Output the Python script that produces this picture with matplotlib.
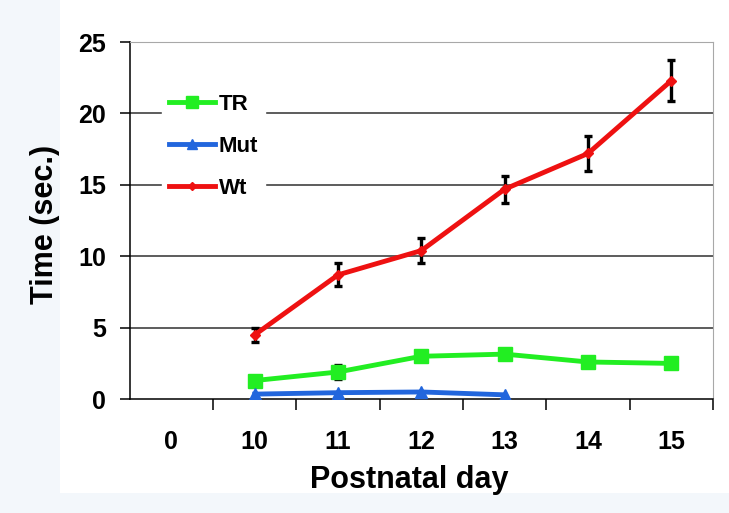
import matplotlib.pyplot as plt
from matplotlib.patches import Rectangle

plt.rcParams['font.family'] = ['Liberation Sans', 'DejaVu Sans']
plt.rcParams['font.weight'] = 'bold'

# categories on the x axis
days = ["0", "10", "11", "12", "13", "14", "15"]

# series values
tr_days = ["10", "11", "12", "13", "14", "15"]
tr_time = [1.3, 1.9, 3.0, 3.15, 2.6, 2.5]
tr_err = [0.3, 0.5, 0.3, 0.3, 0.3, 0.3]

mut_days = ["10", "11", "12", "13"]
mut_time = [0.35, 0.45, 0.5, 0.3]

wt_days = ["10", "11", "12", "13", "14", "15"]
wt_time = [4.5, 8.7, 10.4, 14.7, 17.2, 22.3]
wt_err = [0.5, 0.8, 0.9, 0.95, 1.25, 1.45]

pos = {d: i for i, d in enumerate(days)}

fig = plt.figure(figsize=(7.29, 5.13), dpi=100, facecolor="#f3f7fb")
# white sheet behind the chart, pale strip left and bottom
fig.patches.append(Rectangle((60 / 729, 20 / 513), 1, 1, transform=fig.transFigure,
                             facecolor="white", edgecolor="none", zorder=-5))
ax = fig.add_axes([0.178, 0.222, 0.800, 0.696])

# gridlines
for yv in [5, 10, 15, 20]:
    ax.axhline(yv, color="#303030", lw=1.1, zorder=1)

tr_x = [pos[d] for d in tr_days]
mut_x = [pos[d] for d in mut_days]
wt_x = [pos[d] for d in wt_days]

# error bars first (no legend entry)
ax.errorbar(tr_x, tr_time, yerr=tr_err, fmt="none", ecolor="black",
            elinewidth=2.4, capsize=3, capthick=2.4, zorder=2)
ax.errorbar(wt_x, wt_time, yerr=wt_err, fmt="none", ecolor="black",
            elinewidth=2.4, capsize=3, capthick=2.4, zorder=2)

ax.plot(tr_x, tr_time, color="#22ee22", lw=3.5, marker="s", markersize=10,
        label="TR", zorder=3)
ax.plot(mut_x, mut_time, color="#2266dd", lw=3.5, marker="^", markersize=9,
        label="Mut", zorder=4)
ax.plot(wt_x, wt_time, color="#ee1111", lw=3.5, marker="D", markersize=5,
        label="Wt", zorder=5)

ax.set_xlim(-0.5, len(days) - 0.5)
ax.set_ylim(0, 25)
ax.set_yticks([0, 5, 10, 15, 20, 25])
ax.set_xticks(range(len(days)))
ax.set_xticklabels(days)
ax.set_xticks([i + 0.5 for i in range(len(days))], minor=True)
ax.tick_params(axis="x", which="major", length=0, pad=22, labelsize=18)
ax.tick_params(axis="x", which="minor", length=8, width=1.1, direction="out")
ax.tick_params(axis="y", length=7, width=1.1, direction="out", labelsize=18, pad=10)

for s in ["top", "right"]:
    ax.spines[s].set_color("#a8a8a8")
for s in ["left", "bottom"]:
    ax.spines[s].set_color("black")
    ax.spines[s].set_linewidth(1.1)

ax.set_xlabel("Postnatal day", fontsize=22, fontweight="bold")
ax.set_ylabel("Time (sec.)", fontsize=22, fontweight="bold")
ax.xaxis.set_label_coords(0.48, -0.185)
ax.yaxis.set_label_coords(-0.12, 0.49)

leg = ax.legend(loc="upper left", bbox_to_anchor=(0.036, 0.905), frameon=True,
                fontsize=16, handlelength=2.1, handletextpad=0.15,
                labelspacing=0.95, borderpad=0.3, markerscale=0.8)
leg.get_frame().set_edgecolor("white")
leg.get_frame().set_facecolor("white")
leg.get_frame().set_alpha(1)

fig.savefig("out.png", dpi=100, facecolor=fig.get_facecolor())
